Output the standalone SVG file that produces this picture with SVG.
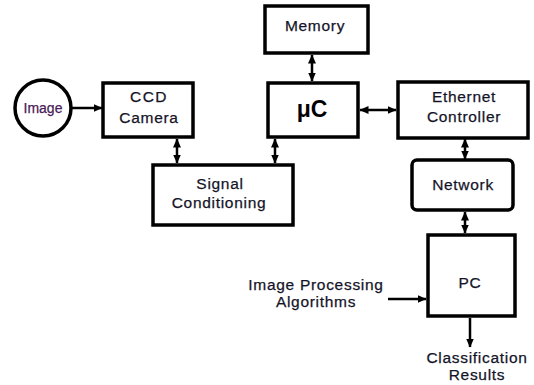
<svg xmlns="http://www.w3.org/2000/svg" width="534" height="385" viewBox="0 0 534 385">
<defs>
<marker id="ah" markerWidth="9" markerHeight="10" refX="8.5" refY="5" orient="auto-start-reverse" markerUnits="userSpaceOnUse">
<path d="M0,1 L9,5 L0,9 Z" fill="#000"/>
</marker>
</defs>
<style>
.box{fill:#fff;stroke:#000;stroke-width:3.5}
.t{font-family:"Liberation Sans",Arial,sans-serif;font-size:15.5px;letter-spacing:0.7px;fill:#141428;text-anchor:middle;stroke:#141428;stroke-width:0.25}
.c{stroke:#000;stroke-width:2.5;fill:none}
</style>
<rect width="534" height="385" fill="#fff"/>
<g id="image"><circle class="box" cx="43" cy="108" r="28"/><text class="t" x="43" y="113" style="font-size:14px;letter-spacing:0;fill:#4a2058;stroke:#4a2058">Image</text></g>
<g id="ccd"><rect class="box" x="103" y="83" width="90" height="54"/><text class="t" x="149" y="102" style="letter-spacing:1.5px">CCD</text><text class="t" x="149" y="123">Camera</text></g>
<g id="memory"><rect class="box" x="265" y="6" width="103" height="47"/><text class="t" x="315" y="31">Memory</text></g>
<g id="uc"><rect class="box" x="268" y="83" width="90" height="54"/><text x="312" y="117" style="font-family:'Liberation Sans',Arial,sans-serif;font-size:23px;font-weight:bold;fill:#000;text-anchor:middle">μC</text></g>
<g id="ethernet"><rect class="box" x="398" y="82" width="130" height="56"/><text class="t" x="464" y="102">Ethernet</text><text class="t" x="464" y="122">Controller</text></g>
<g id="network"><rect class="box" x="412" y="160" width="101" height="50" rx="5"/><text class="t" x="463" y="190">Network</text></g>
<g id="signal"><rect class="box" x="153" y="165" width="140" height="60"/><text class="t" x="220" y="189">Signal</text><text class="t" x="219" y="208">Conditioning</text></g>
<g id="pc"><rect class="box" x="428" y="235" width="87" height="81"/><text class="t" x="470" y="288">PC</text></g>
<g id="labels"><text class="t" x="316" y="290">Image Processing</text><text class="t" x="316" y="307">Algorithms</text><text class="t" x="477" y="363">Classification</text><text class="t" x="477" y="380">Results</text></g>
<g id="connectors">
<line class="c" x1="72" y1="108" x2="102" y2="108" marker-end="url(#ah)"/>
<line class="c" x1="312" y1="55" x2="312" y2="81" marker-start="url(#ah)" marker-end="url(#ah)"/>
<line class="c" x1="360" y1="110" x2="396" y2="110" marker-start="url(#ah)" marker-end="url(#ah)"/>
<line class="c" x1="465" y1="139" x2="465" y2="159" marker-start="url(#ah)" marker-end="url(#ah)"/>
<line class="c" x1="177" y1="139" x2="177" y2="163" marker-start="url(#ah)" marker-end="url(#ah)"/>
<line class="c" x1="275" y1="139" x2="275" y2="163" marker-start="url(#ah)" marker-end="url(#ah)"/>
<line class="c" x1="465" y1="212" x2="465" y2="233" marker-start="url(#ah)" marker-end="url(#ah)"/>
<line class="c" x1="388" y1="299" x2="426" y2="299" marker-end="url(#ah)"/>
<line class="c" x1="470" y1="318" x2="470" y2="347" marker-end="url(#ah)"/>
</g>
</svg>
